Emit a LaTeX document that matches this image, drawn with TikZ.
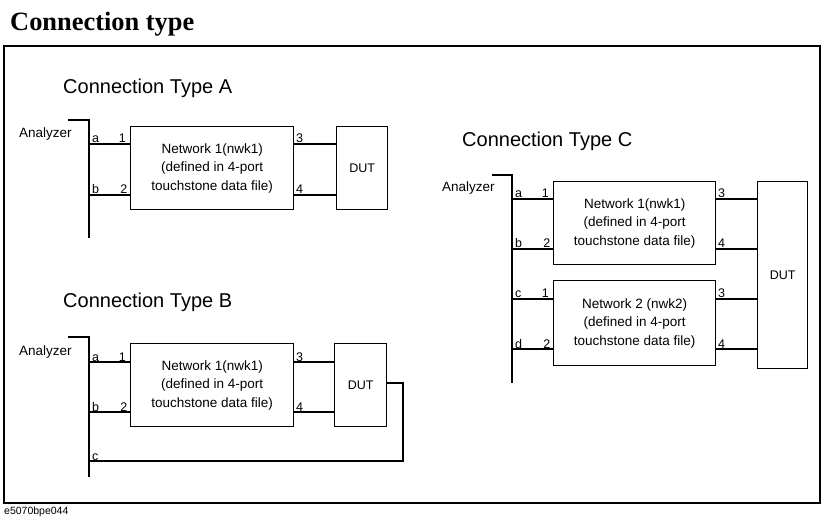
\documentclass[tikz,border=0pt]{standalone}
\usepackage{fontspec}
\setmainfont{Liberation Serif}
\newfontfamily\arialf{Liberation Sans}
\begin{document}
\begin{tikzpicture}[x=1pt,y=-1pt,
  wire/.style={line width=1.3pt},
  blk/.style={draw,line width=1.3pt,anchor=north west,inner sep=0pt,align=center,
     font=\arialf\fontsize{13.5}{18.5}\selectfont},
  sect/.style={anchor=base west,inner sep=0pt,font=\arialf\fontsize{20}{24}\selectfont},
  anl/.style={anchor=base west,inner sep=0pt,font=\arialf\fontsize{13.5}{16}\selectfont},
  portl/.style={anchor=base west,inner sep=0pt,font=\arialf\fontsize{12.5}{15}\selectfont},
  portr/.style={anchor=base east,inner sep=0pt,font=\arialf\fontsize{12.5}{15}\selectfont}]
\useasboundingbox (0,0) rectangle (824,521);
% title and frame
\node[anchor=base west,inner sep=0pt,font=\bfseries\fontsize{26.4}{30}\selectfont] (title) at (10,30.5) {Connection type};
\draw[line width=2.2pt] (4,46) rectangle (820,503);
\node[anchor=base west,inner sep=0pt,font=\arialf\fontsize{10.5}{12}\selectfont] (code) at (4,514) {e5070bpe044};

% ---------------- Type A
\node[sect] (tA) at (63,94) {Connection Type A};
\node[anl] (anA) at (19,138) {Analyzer};
\coordinate (AbT0) at (68,120);
\coordinate (AbT) at (89,120);
\coordinate (AbB) at (89,238);
\draw[wire] (AbT0) -- (AbT) -- (AbB);
\node[blk,minimum width=163pt,minimum height=83pt] (nA) at (130,126) {Network 1(nwk1)\\(defined in 4-port\\touchstone data file)};
\node[blk,minimum width=51pt,minimum height=83pt,font=\arialf\fontsize{12.5}{15}\selectfont] (dA) at (336,126) {DUT};
\coordinate (Aa) at (89,144);
\coordinate (Ab) at (89,195);
\draw[wire] (Aa) -- (nA.west |- Aa);
\draw[wire] (Ab) -- (nA.west |- Ab);
\draw[wire] (nA.east |- Aa) -- (dA.west |- Aa);
\draw[wire] (nA.east |- Ab) -- (dA.west |- Ab);
\node[portl] (Ala) at (92,143) {a};
\node[portl] (Alb) at (92,194) {b};
\node[portr] (Al1) at (126,143) {1};
\node[portr] (Al2) at (127.5,194) {2};
\node[portl] (Al3) at (296,143) {3};
\node[portl] (Al4) at (296,194) {4};

% ---------------- Type B
\node[sect] (tB) at (63,307) {Connection Type B};
\node[anl] (anB) at (19,355) {Analyzer};
\coordinate (BbT0) at (68,337);
\coordinate (BbT) at (89,337);
\coordinate (BbB) at (89,477);
\draw[wire] (BbT0) -- (BbT) -- (BbB);
\node[blk,minimum width=163pt,minimum height=83pt] (nB) at (130,343) {Network 1(nwk1)\\(defined in 4-port\\touchstone data file)};
\node[blk,minimum width=52pt,minimum height=83pt,font=\arialf\fontsize{12.5}{15}\selectfont] (dB) at (334,343) {DUT};
\coordinate (Ba) at (89,362);
\coordinate (Bb) at (89,412);
\coordinate (Bc) at (89,461);
\coordinate (Bl1) at (403,383);
\coordinate (Bl2) at (403,461);
\draw[wire] (Ba) -- (nB.west |- Ba);
\draw[wire] (Bb) -- (nB.west |- Bb);
\draw[wire] (nB.east |- Ba) -- (dB.west |- Ba);
\draw[wire] (nB.east |- Bb) -- (dB.west |- Bb);
\draw[wire] (dB.east |- Bl1) -- (Bl1) -- (Bl2) -- (Bc);
\node[portl] (Bla) at (92,361) {a};
\node[portl] (Blb) at (92,411) {b};
\node[portl] (Blc) at (92,460) {c};
\node[portr] (Bl1n) at (126,361) {1};
\node[portr] (Bl2n) at (127.5,411) {2};
\node[portl] (Bl3) at (296,361) {3};
\node[portl] (Bl4) at (296,411) {4};

% ---------------- Type C
\node[sect] (tC) at (462,147) {Connection Type C};
\node[anl] (anC) at (442,192) {Analyzer};
\coordinate (CbT0) at (492,175);
\coordinate (CbT) at (512,175);
\coordinate (CbB) at (512,383);
\draw[wire] (CbT0) -- (CbT) -- (CbB);
\node[blk,minimum width=162pt,minimum height=83pt] (nC1) at (553,181) {Network 1(nwk1)\\(defined in 4-port\\touchstone data file)};
\node[blk,minimum width=162pt,minimum height=85pt] (nC2) at (553,280) {Network 2 (nwk2)\\(defined in 4-port\\touchstone data file)};
\node[blk,minimum width=50pt,minimum height=187pt,font=\arialf\fontsize{12.5}{15}\selectfont] (dC) at (757,181) {DUT};
\coordinate (Ca) at (512,199);
\coordinate (Cb) at (512,249);
\coordinate (Cc) at (512,299);
\coordinate (Cd) at (512,349);
\draw[wire] (Ca) -- (nC1.west |- Ca);
\draw[wire] (Cb) -- (nC1.west |- Cb);
\draw[wire] (Cc) -- (nC2.west |- Cc);
\draw[wire] (Cd) -- (nC2.west |- Cd);
\draw[wire] (nC1.east |- Ca) -- (dC.west |- Ca);
\draw[wire] (nC1.east |- Cb) -- (dC.west |- Cb);
\draw[wire] (nC2.east |- Cc) -- (dC.west |- Cc);
\draw[wire] (nC2.east |- Cd) -- (dC.west |- Cd);
\node[portl] (Cla) at (515,198) {a};
\node[portl] (Clb) at (515,248) {b};
\node[portl] (Clc) at (515,298) {c};
\node[portl] (Cld) at (515,348) {d};
\node[portr] (C1a) at (549,198) {1};
\node[portr] (C2a) at (550.5,248) {2};
\node[portr] (C1b) at (549,298) {1};
\node[portr] (C2b) at (550.5,348) {2};
\node[portl] (C3a) at (718,198) {3};
\node[portl] (C4a) at (718,248) {4};
\node[portl] (C3b) at (718,298) {3};
\node[portl] (C4b) at (718,348) {4};
\end{tikzpicture}
\end{document}
